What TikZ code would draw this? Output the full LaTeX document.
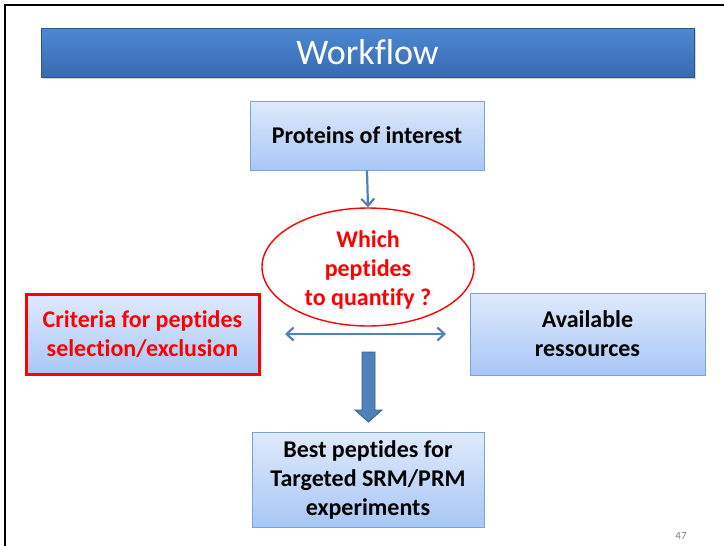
\documentclass[tikz,border=0pt]{standalone}
\usepackage{fontspec}
\setmainfont{Carlito}[Ligatures=NoCommon]
\usetikzlibrary{arrows.meta,shapes.geometric,shadows,calc}
\definecolor{titletop}{HTML}{4C88D4}
\definecolor{titlebot}{HTML}{386BB0}
\definecolor{boxtop}{HTML}{DEEAFC}
\definecolor{boxbot}{HTML}{A8C7F6}
\definecolor{boxline}{HTML}{7EA2D2}
\definecolor{arrowblue}{HTML}{4F81BD}
\definecolor{arrowedge}{HTML}{385D8A}
\definecolor{alert}{HTML}{FF0000}
\tikzset{
  stepbox/.style={draw=boxline, line width=1pt, top color=boxtop, bottom color=boxbot,
    align=center, font=\fontsize{24}{29}\selectfont\bfseries, inner sep=0pt},
  flowarrow/.style={draw=arrowblue, line width=2.2pt,
    -{Straight Barb[length=7pt,width=13pt,line width=2.2pt]}},
}
\begin{document}
\begin{tikzpicture}[x=1pt,y=-1pt]
  \useasboundingbox (0,0) rectangle (724,546);
  % slide frame (top and left edges)
  \draw[line width=2.2pt] (5,546) -- (5,5) -- (724,5);

  % title bar
  \node[minimum width=653pt, minimum height=49pt, inner sep=0pt,
        top color=titletop, bottom color=titlebot, draw=titlebot!80!black, line width=0.6pt,
        drop shadow={shadow xshift=1.5pt, shadow yshift=-1.5pt, opacity=0.35},
        text=white, font=\fontsize{36}{38}\selectfont] (title) at (367.5,52.5) {Workflow};

  % boxes
  \node[stepbox, minimum width=234pt, minimum height=69pt] (prot) at (367,135.5) {Proteins of interest};

  \node[ellipse, draw=alert, line width=1.4pt, fill=white, minimum width=212pt, minimum height=118pt,
        inner sep=0pt] (which) at (368,267) {};
  \node[align=center, text=alert, inner sep=0pt, font=\fontsize{24}{29}\selectfont\bfseries]
        (whichtext) at ($(which.center)+(0,3)$) {Which\\peptides\\to quantify ?};

  \node[stepbox, draw=alert, line width=3pt, text=alert, minimum width=233pt, minimum height=80pt]
        (crit) at (142.5,334) {Criteria for peptides\\selection/exclusion};

  \node[stepbox, minimum width=235pt, minimum height=82pt] (avail) at (587.5,334) {Available\\ressources};

  \node[stepbox, minimum width=232pt, minimum height=95pt] (best) at (368,479.5)
        {Best peptides for\\Targeted SRM/PRM\\experiments};

  % connectors
  \draw[flowarrow] (prot.south) -- (which.north);

  \coordinate (lend) at (285,334);
  \coordinate (rend) at (446,334);
  \draw[flowarrow, {Straight Barb[length=7pt,width=13pt,line width=2.2pt]}-{Straight Barb[length=7pt,width=13pt,line width=2.2pt]}]
        (lend) -- (rend);

  % block arrow down to the result box
  \coordinate (bt) at (368.5,352);
  \fill[arrowblue, draw=arrowedge, line width=0.8pt]
    ($(bt)+(-6.5,0)$) -- ($(bt)+(6.5,0)$) -- ($(bt)+(6.5,58)$) -- ($(bt)+(13.5,58)$)
    -- ($(bt)+(0,70)$) -- ($(bt)+(-13.5,58)$) -- ($(bt)+(-6.5,58)$) -- cycle;

  % page number
  \node[text=gray, font=\fontsize{11}{12}\selectfont] (pg) at (681,536) {47};
\end{tikzpicture}
\end{document}
